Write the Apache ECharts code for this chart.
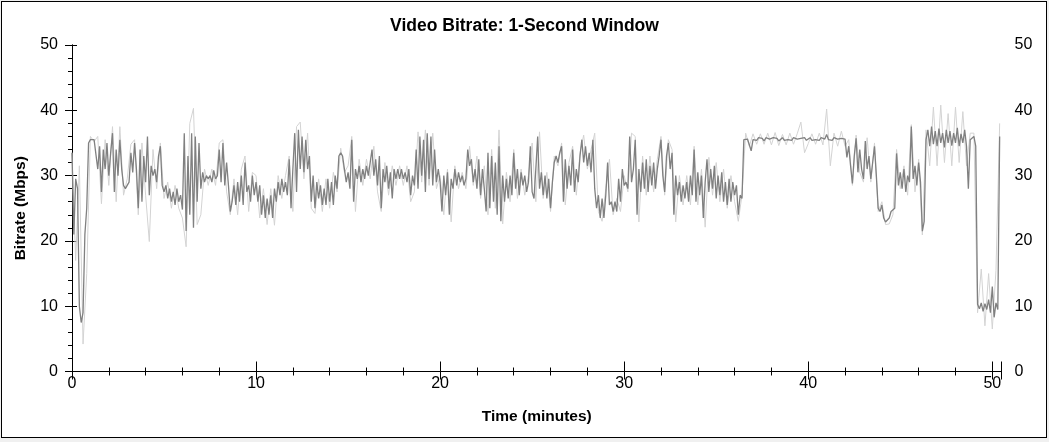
<!DOCTYPE html>
<html><head><meta charset="utf-8">
<script src="https://cdn.jsdelivr.net/npm/echarts@6/dist/echarts.min.js"></script>
<style>
html,body{margin:0;padding:0;background:#f0f0f0;}
#frame{position:absolute;left:1px;top:1px;width:1044px;height:435px;border:1px solid #000;background:#fff;}
#chart{position:absolute;left:0;top:0;width:1049px;height:442px;}
</style></head><body>
<div id="frame"></div><div id="chart"></div>
<script>
// sampling steps (minutes)
const STEP_DARK = 0.1;
const STEP_LIGHT = 0.2;
const xTicks = [0, 10, 20, 30, 40, 50];
const yTicks = [0, 10, 20, 30, 40, 50];

// 1-second window bitrate (Mbps), dark trace, 0.0 - 9.9 min
const dark00 = [33.5,21,29.5,28,10,7.5,9,21,25,35,
 35.5,35.8,35.5,35.6,31,34.5,27.5,34,31,35,
 30,33.5,36.5,27.5,34,30,35.5,31,28.5,28,
 28.5,29,33.5,30.5,35,31,25,34,26,33,
 29,36,27,31.5,30,31,29,33,34.5,28.5,
 27.5,28.5,26.5,28,26,27.5,25.5,28,26,27,
 24.8,36.5,21.5,33,24,36.5,22,36,26,35,
 28,30.5,29,30,29.5,30,29,30.8,29.5,30,
 34,29,35,28.5,32,28.5,24.5,26,28.5,25.5,
 29,26,30,25.5,32,27.5,28.5,26,30,27];
// 10.0 - 19.9 min
const dark10 = [29,26,28.5,24,27,23.5,26.5,24,27,23.5,
 28,26,29,27,29.5,27.5,29,27,32.5,25,
 31,36.5,27.5,37,31,36,30.5,35.5,31,33,
 26,30,25,29,26.5,28.5,25.5,28,25.5,29.5,
 26,29,25.5,30,28,33,33.5,33,31,29,
 30.5,28,35.5,26,31,29.5,31.5,29,31,29.5,
 31.5,30,32,34,30,32.5,28.5,33,25,31,
 29,31.5,28,30.5,26.5,31,29.5,31,29.5,31,
 29.5,30.5,29,31,27,30,28.5,34,28,36,
 30,35.5,27.5,36.5,29.5,36,28.5,34,29,31];
// 20.0 - 29.9 min
const dark20 = [29,24.5,30,27,30.5,24,29.5,28,31,28.5,
 30.5,29,30,28.5,29.5,34,31.5,32.5,29,31,
 28,32.5,27,31,28,24.5,33.5,25,33,26,
 32,24,34.5,23,30,26,29.5,26.5,30,27,
 33.5,28,31,27,30.5,28.5,30,27.5,29,34.5,
 27.5,26.5,31,36,28,30.5,27,30,26.5,29.5,
 25,29,32,33,32,33.5,34.5,26,32.5,28,
 31.5,28.5,34,27.5,31,29,33,35.5,32,34.5,
 31.5,33.5,30.5,35.5,28,25,27,23.5,26.5,23.5,
 27,32,25.5,26,24.5,26,24.5,29.5,26,31];
// 30.0 - 39.9 min
const dark30 = [28.5,29,28,36,29,31,35.5,24,31,27.5,
 32,28,32.5,27.5,31.5,28.5,32,28,31,33,
 35.5,30,27.5,33,35,31,33.5,24,30,27,
 29,26,28.5,26.5,29,26,30,27,34,26,
 30.5,27,30,23.5,29,32.5,27.5,31,28,31.5,
 26.5,30,27,30.5,26,29,25.5,29.5,26,29,
 27,28.5,24,27,26.5,35.5,35.8,35.6,35.4,33.8,
 35.5,35.7,35.4,35.8,35.5,35.7,35.3,35.8,35.5,35.6,
 35.4,35.8,35.5,35.7,35.3,35.6,35.8,35.4,35.6,35.5,
 35.7,35.4,35.8,35.5,35.6,35.3,35.7,35.5,35.8,35.4];
// 40.0 - 50.4 min
const dark40 = [35.6,35.8,35.4,35.7,35.5,35.6,35.4,35.8,35.5,35.6,
 36.3,35.5,35.7,35.4,35.8,35.5,35.6,35.4,35.7,35.5,
 35.6,32.8,34.5,31.5,28.8,33,35.7,30.5,34,31,
 29.5,35.3,31,33,29.5,32,34.5,30,25,24.5,
 25.5,23.5,22.9,22.9,23.5,24.5,24.5,25,33.4,28.5,
 30.5,28,31,27.5,30,29,37.5,29.5,31.5,28.5,
 32,29,21.5,23,35.5,37,34.5,37.5,34.8,36.8,
 34.5,37.2,35,36.5,34.3,37,35,36.8,34.6,36.5,
 35,37.3,34.5,36.4,35,37,34.5,28,35.5,35.8,
 36,34.5,10.3,9.6,10.5,9.2,10.4,9.5,11,9,
 13,8.3,10.5,9.5,36];

// light trace (peak envelope), every 0.2 min
const light00 = [33.5,17,31.5,4.2,15,36,35.2,36,25.7,35.5,
 28.5,37.5,26,37.5,27,29.5,34.8,35.5,24,35,
 27,19.9,34,28,35,26.5,29,25,28.5,25,
 23.5,19.1,38,40.3,22.5,24,31,28.5,31,28.5,
 35,35.5,27.5,24,29.5,24,31,33,24.5,30.5];
const light10 = [30,23.5,28,22.5,28,22.4,30,26.5,30,33,
 24.5,37.5,38.2,29.5,36.5,25,24.2,29.5,24.5,29.5,
 25,30.5,27.5,34.2,30.5,31.5,36,24.5,32.5,28.5,
 32.5,29.5,34.5,27.5,24.5,32,27,31.5,28.5,31.5,
 28.5,31.5,26,27.5,36.7,29,37,28.5,36.5,28];
const light20 = [30,24,31,22.9,31.5,28,30.5,28,34.5,28.5,
 33,26.5,31.5,24,34,25,37,22.6,30.5,26,
 34,26.5,31,27,30,35,26,36.7,26.5,30.5,
 24.5,33,31.5,35,25.5,32,34.5,27,33.5,36.2,
 31,34,36.5,24.5,23,28,32.5,24,26.5,24.5];
const light30 = [30,27.5,36.5,36,22.9,33,27,33,27.5,32.5,
 36,27,35.5,34,22.9,30,25.5,30,25.5,34.5,
 25.5,31,22.1,32.8,27,32,26,31,25,30,
 26,23,27,36.5,34.5,36.4,34.8,36.4,34.8,36.5,
 34.7,36.6,34.6,36.3,34.7,36.5,34.8,36.4,38.2,33.5];
const light40 = [34.9,36.4,34.8,36.5,34.7,40.2,31.5,36.5,34.5,36.8,
 34.5,35.5,28.5,36.2,30.5,29,35.8,29,35,24.5,
 26,22.5,22.6,24,34,28,31.5,27,37.8,27.5,
 32.5,20.9,37,31.5,40.5,31.5,40.8,32,39.5,31.5,
 40.5,32,39.8,31.5,36.5,36.5,9,15.7,7,15,
 6.5,15.5,38];

const darkVals = [].concat(dark00, dark10, dark20, dark30, dark40);
const lightVals = [].concat(light00, light10, light20, light30, light40);
const darkData = darkVals.map((v, i) => [+(i * STEP_DARK).toFixed(2), v]);
const lightData = lightVals.map((v, i) => [+(i * STEP_LIGHT).toFixed(2), v]);

const FONT = "'Liberation Sans', Arial, sans-serif";
const chart = echarts.init(document.getElementById('chart'), null, {renderer: 'canvas'});
const axisLine = {show: true, lineStyle: {color: '#000', width: 1}};
const xLabel = {fontSize: 16, color: '#000', fontFamily: FONT, margin: 4,
  formatter: v => xTicks.includes(v) ? String(v) : ''};
const yLabel = {fontSize: 16, color: '#000', fontFamily: FONT,
  formatter: v => yTicks.includes(v) ? String(v) : ''};
const nameStyle = {fontSize: 15.5, fontWeight: 'bold', color: '#000', fontFamily: FONT};

chart.setOption({
  animation: false,
  backgroundColor: 'transparent',
  title: {text: 'Video Bitrate: 1-Second Window', left: 'center', top: 12,
    textStyle: {fontSize: 17.5, fontWeight: 'bold', color: '#000', fontFamily: FONT}},
  grid: {left: 72, right: 47.5, top: 45, bottom: 70.5, containLabel: false},
  xAxis: [
    {type: 'value', position: 'bottom', min: 0, max: 50.5, interval: 10,
     name: 'Time (minutes)', nameLocation: 'middle', nameGap: 37,
     nameTextStyle: nameStyle,
     axisLine, axisTick: {show: true, inside: true, length: 10, lineStyle: {color: '#000'}},
     minorTick: {show: true, splitNumber: 5, length: 4, lineStyle: {color: '#000'}},
     axisLabel: xLabel, splitLine: {show: false}},
    {type: 'value', position: 'top', min: 0, max: 50.5, interval: 10,
     axisLine, axisTick: {show: true, inside: true, length: 8, lineStyle: {color: '#000'}},
     minorTick: {show: true, splitNumber: 5, length: 4, lineStyle: {color: '#000'}},
     axisLabel: {show: false}, splitLine: {show: false}}
  ],
  yAxis: [
    {type: 'value', position: 'left', min: 0, max: 50, interval: 10,
     name: 'Bitrate (Mbps)', nameLocation: 'middle', nameGap: 43, nameRotate: 90,
     nameTextStyle: nameStyle,
     axisLine, axisTick: {show: true, inside: false, length: 5, lineStyle: {color: '#000'}},
     minorTick: {show: true, splitNumber: 5, length: 4, lineStyle: {color: '#000'}},
     axisLabel: Object.assign({margin: 14}, yLabel), splitLine: {show: false}},
    {type: 'value', position: 'right', min: 0, max: 50, interval: 10,
     axisLine, axisTick: {show: true, inside: true, length: 7, lineStyle: {color: '#000'}},
     minorTick: {show: true, splitNumber: 5, length: 3, lineStyle: {color: '#000'}},
     axisLabel: Object.assign({margin: 13}, yLabel), splitLine: {show: false}},
    {type: 'value', position: 'left', min: 0, max: 50, interval: 10,
     axisLine: {show: false}, axisTick: {show: true, inside: true, length: 5, lineStyle: {color: '#000'}},
     axisLabel: {show: false}, splitLine: {show: false}}
  ],
  series: [
    {type: 'line', name: 'peak', data: lightData, showSymbol: false, symbol: 'none',
     sampling: false, lineStyle: {color: '#d3d3d3', width: 1}, silent: true, z: 2},
    {type: 'line', name: 'window', data: darkData, showSymbol: false, symbol: 'none',
     sampling: false, lineStyle: {color: '#808080', width: 1.3}, silent: true, z: 3}
  ]
});
</script>
</body></html>
